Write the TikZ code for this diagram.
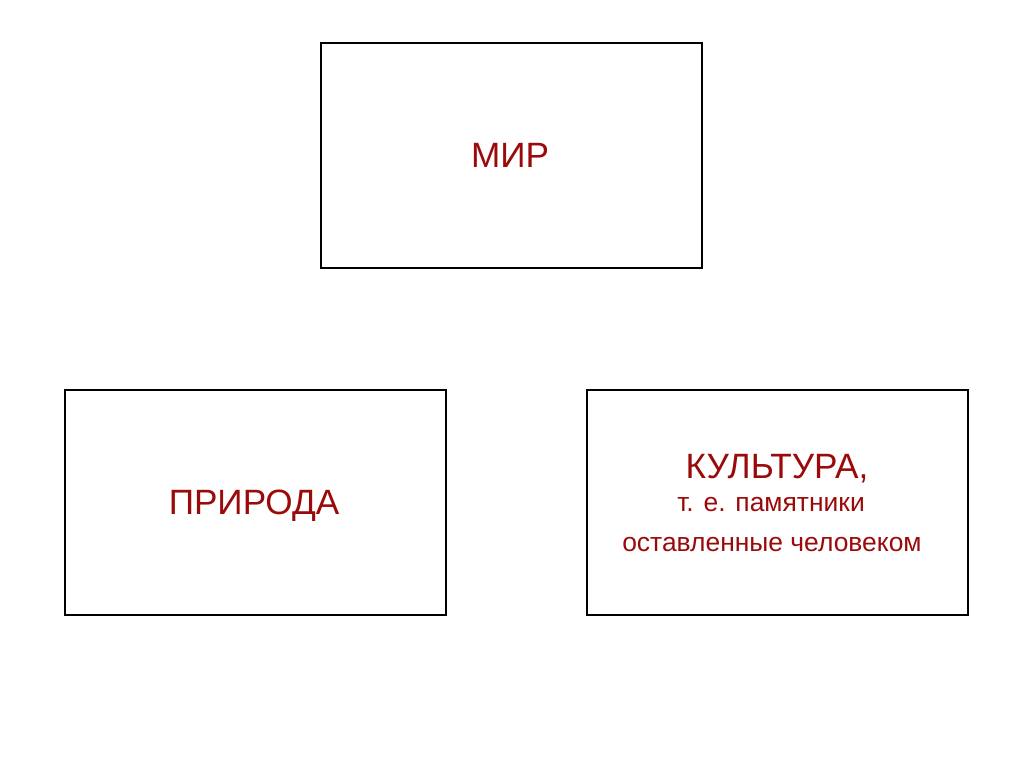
\documentclass[tikz,border=0pt]{standalone}
\usepackage{fontspec}
\setmainfont{Liberation Sans}
\usepackage{tikz}

\definecolor{textred}{HTML}{9A0A0A}
\tikzset{
	box/.style={draw=black, line width=1.1pt, minimum width=9.525cm, minimum height=5.625cm, inner sep=0pt},
	big/.style={text=textred, font=\fontsize{25}{28}\selectfont, inner sep=0pt, anchor=base},
	small/.style={text=textred, font=\fontsize{18.8}{22}\selectfont, inner sep=0pt, anchor=base}
}

\begin{document}
\begin{tikzpicture}[x=0.025cm, y=-0.025cm] % 1 unit = 1 pixel
	\useasboundingbox (0,0) rectangle (1024,768);
	
	% The three boxes
	\node[box] (world) at (511.5,155.5) {};
	\node[box] (nature) at (255.5,502.5) {};
	\node[box] (culture) at (777.5,502.5) {};
	
	% Labels in the boxes (placed by baseline)
	\node[big] (worldtext) at (510,168) {МИР};
	\node[big] (naturetext) at (254,514) {ПРИРОДА};
	\node[big] (culturetext) at (777,478) {КУЛЬТУРА,};
	\node[small] (culturetwo) at (771,511) {т. е. памятники};
	\node[small] (culturethree) at (772,551) {оставленные человеком};
\end{tikzpicture}
\end{document}
